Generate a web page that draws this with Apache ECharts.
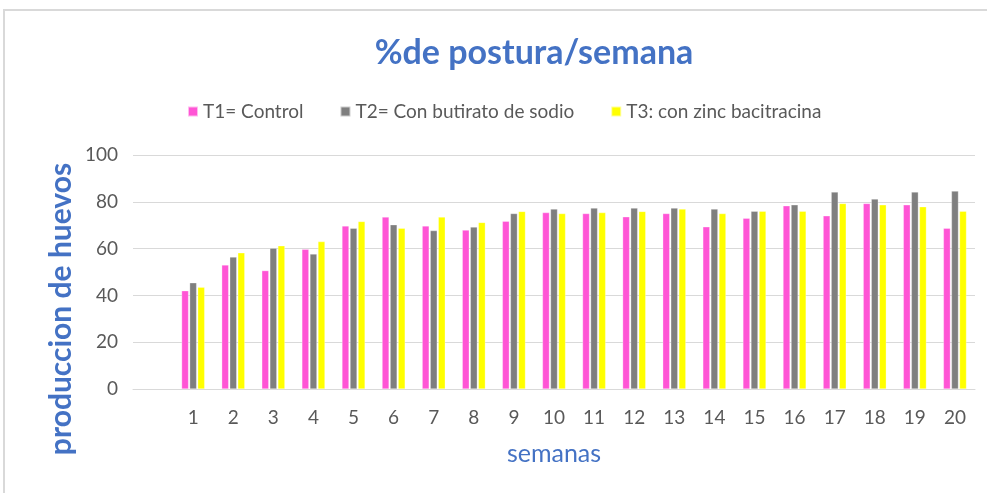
<!DOCTYPE html>
<html>
<head>
<meta charset="utf-8">
<script src="https://cdn.jsdelivr.net/npm/echarts@6/dist/echarts.min.js"></script>
<style>
  html, body { margin: 0; padding: 0; background: #fff; }
  #chart { width: 987px; height: 493px; }
</style>
</head>
<body>
<div id="chart"></div>
<script>
// first slot is empty in the original sheet
const semanas = ["", "1", "2", "3", "4", "5", "6", "7", "8", "9", "10", "11", "12", "13", "14", "15", "16", "17", "18", "19", "20"];
const t1Control = [null, 42.0, 53.0, 50.6, 59.7, 69.7, 73.5, 69.7, 67.9, 71.7, 75.4, 75.0, 73.6, 75.0, 69.3, 73.0, 78.3, 74.0, 79.3, 78.7, 68.7];
const t2Butirato = [null, 45.4, 56.4, 60.2, 57.7, 68.7, 70.2, 67.7, 69.2, 75.0, 76.9, 77.3, 77.3, 77.3, 76.9, 76.0, 78.7, 84.2, 81.2, 84.2, 84.6];
const t3Zinc = [null, 43.5, 58.2, 61.2, 63.0, 71.6, 68.7, 73.5, 71.2, 75.9, 75.0, 75.4, 75.9, 76.9, 75.0, 76.0, 76.0, 79.3, 78.7, 77.9, 76.0];
const seriesNames = ["T1= Control", "T2= Con butirato de sodio", "T3: con zinc bacitracina"];
const colors = ["#FF55D5", "#7F7F7F", "#FFFF00"];

const font = "Lato, 'Open Sans', sans-serif";
const chart = echarts.init(document.getElementById("chart"));

const makeBar = (name, data, color) => ({
  name,
  type: "bar",
  data,
  barWidth: 7,
  barGap: "15%",
  itemStyle: { color, borderColor: "rgba(255,255,255,0.6)", borderWidth: 0.5 },
  emphasis: { disabled: true }
});

chart.setOption({
  animation: false,
  color: colors,
  textStyle: { fontFamily: font },
  title: {
    text: "%de postura/semana",
    left: 529,
    top: 31,
    textAlign: "center",
    textStyle: { color: "#4472C4", fontSize: 34, fontWeight: "bold", fontFamily: font }
  },
  legend: {
    left: 182,
    top: 97,
    itemWidth: 10,
    itemHeight: 10,
    itemGap: 36,
    icon: "rect",
    textStyle: { color: "#595959", fontSize: 19, fontFamily: font },
    data: seriesNames
  },
  grid: { left: 133, right: 12, top: 155, bottom: 104, containLabel: false },
  xAxis: {
    type: "category",
    data: semanas,
    name: "semanas",
    nameLocation: "middle",
    nameGap: 52,
    nameTextStyle: { color: "#4472C4", fontSize: 25, fontFamily: font },
    axisLine: { lineStyle: { color: "#d9d9d9" } },
    axisTick: { show: false },
    axisLabel: { color: "#595959", fontSize: 19, margin: 19, interval: 0 }
  },
  yAxis: {
    type: "value",
    min: 0,
    max: 100,
    interval: 20,
    axisLine: { show: false },
    axisTick: { show: false },
    axisLabel: { color: "#595959", fontSize: 19, margin: 15 },
    splitLine: { lineStyle: { color: "#d9d9d9" } }
  },
  graphic: [
    {
      type: "rect",
      shape: { x: 4, y: 10, width: 1100, height: 600 },
      style: { fill: "none", stroke: "#d9d9d9", lineWidth: 2 },
      silent: true
    },
    {
      type: "text",
      x: 61,
      y: 309,
      rotation: Math.PI / 2,
      style: {
        text: "produccion de huevos",
        fill: "#4472C4",
        font: "bold 30px " + font,
        textAlign: "center",
        textVerticalAlign: "middle"
      },
      silent: true
    }
  ],
  series: [
    makeBar(seriesNames[0], t1Control, colors[0]),
    makeBar(seriesNames[1], t2Butirato, colors[1]),
    makeBar(seriesNames[2], t3Zinc, colors[2])
  ]
});
</script>
</body>
</html>
